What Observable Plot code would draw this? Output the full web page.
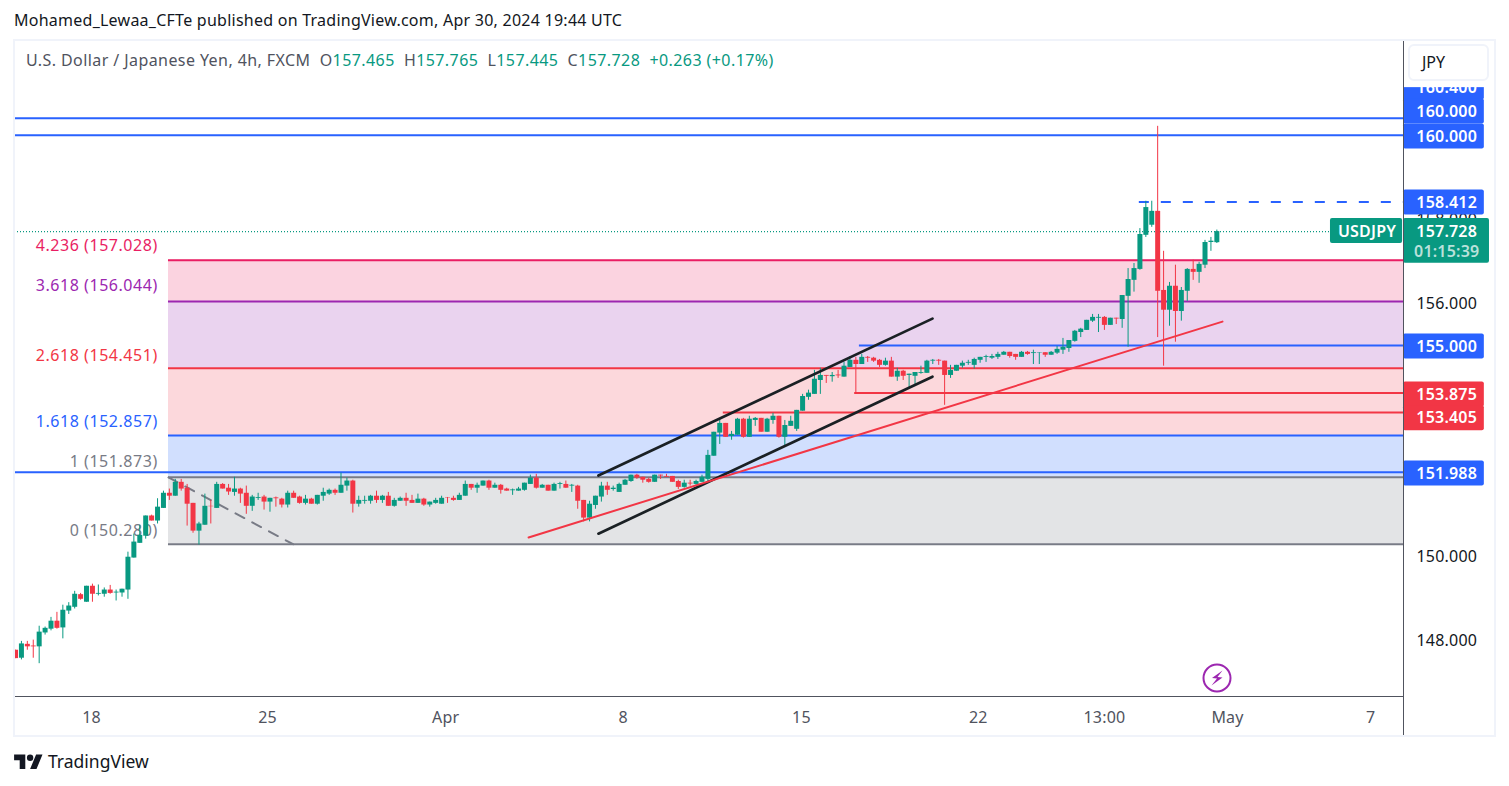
<!DOCTYPE html>
<html>
<head>
<meta charset="utf-8">
<script src="https://cdn.jsdelivr.net/npm/d3@7"></script>
<script src="https://cdn.jsdelivr.net/npm/@observablehq/plot@0.6"></script>
<style>
html,body{margin:0;padding:0;background:#fff;width:1509px;height:786px;overflow:hidden;font-family:"Noto Sans",sans-serif;color:#131722}
.abs{position:absolute;white-space:nowrap}
#plot{position:absolute;left:0;top:40px}
#plot svg{display:block}
#plot svg text{letter-spacing:.2px}
</style>
</head>
<body>
<div class="abs" id="pub" style="left:14px;top:10px;font-size:16px;line-height:21px;letter-spacing:.25px">Mohamed_Lewaa_CFTe published on TradingView.com, Apr 30, 2024 19:44 UTC</div>
<div id="plot"></div>
<div class="abs" style="left:13px;top:39px;width:1479px;height:694px;border:2px solid #f0f3fa;pointer-events:none"></div>
<div class="abs" id="legend" style="left:26px;top:50px;font-size:16px;line-height:21px;color:#50535e;letter-spacing:.42px">U.S. Dollar / Japanese Yen, 4h, FXCM&nbsp;&nbsp;O<span style="color:#089981">157.465</span>&nbsp;&nbsp;H<span style="color:#089981">157.765</span>&nbsp;&nbsp;L<span style="color:#089981">157.445</span>&nbsp;&nbsp;C<span style="color:#089981">157.728</span>&nbsp;&nbsp;<span style="color:#089981">+0.263 (+0.17%)</span></div>
<div class="abs" style="left:1408px;top:44px;width:77px;height:33px;border:2px solid #f0f3fa;border-radius:6px;background:#fff;font-size:16px;line-height:33px;color:#131722"><span style="margin-left:12px">JPY</span></div>
<svg class="abs" style="left:1202px;top:663px" width="30" height="30" viewBox="0 0 30 30"><circle cx="15" cy="15" r="13.5" fill="none" stroke="#9c27b0" stroke-width="2"/><path d="M20.5 7.5 L10 15 L15 15.5 L9.5 22.5 L20.5 14.5 L15.5 14 Z" fill="#9c27b0"/></svg>
<svg class="abs" style="left:14px;top:753px" width="29" height="16" viewBox="0 0 36 20"><path d="M14 20H7V9H0V2h14v18zM28 20h-8l7.5-18h8L28 20z" fill="#131722"/><circle cx="20" cy="6" r="4" fill="#131722"/></svg>
<div class="abs" style="left:48px;top:748px;font-size:17.5px;line-height:26px;color:#131722">TradingView</div>
<script>
const opens = [147.78,147.59,147.92,147.88,147.86,148.19,148.28,148.47,148.31,148.71,148.80,149.10,148.92,149.30,149.11,149.11,149.21,149.14,149.14,149.21,149.97,150.32,150.49,150.97,150.85,151.15,151.51,151.44,151.77,151.63,151.27,150.61,150.75,151.20,151.15,151.72,151.63,151.53,151.61,151.51,151.20,151.39,151.42,151.30,151.40,151.37,151.23,151.51,151.42,151.27,151.37,151.25,151.44,151.49,151.58,151.51,151.68,151.80,151.25,151.32,151.32,151.44,151.34,151.44,151.20,151.32,151.39,151.34,151.27,151.37,151.23,151.27,151.25,151.40,151.39,151.34,151.44,151.72,151.63,151.68,151.80,151.63,151.70,151.61,151.57,151.56,151.58,151.72,151.87,151.63,151.70,151.56,151.72,151.72,151.68,151.68,151.34,150.92,151.22,151.42,151.68,151.60,151.53,151.70,151.79,151.94,151.89,151.84,151.77,151.94,151.91,151.91,151.79,151.65,151.75,151.72,151.77,151.84,152.39,152.94,153.17,152.86,152.89,153.27,152.84,153.24,153.29,152.96,153.24,153.34,152.84,153.10,153.03,153.46,153.79,153.86,154.19,154.31,154.28,154.32,154.27,154.50,154.67,154.57,154.74,154.72,154.67,154.55,154.65,154.27,154.41,154.31,154.29,154.36,154.36,154.65,154.67,154.65,154.31,154.41,154.53,154.60,154.55,154.67,154.74,154.72,154.74,154.79,154.86,154.81,154.74,154.86,154.83,154.84,154.85,154.79,154.84,154.91,154.95,155.12,155.33,155.38,155.60,155.67,155.69,155.50,155.67,155.64,156.19,156.57,156.83,157.64,157.88,158.21,156.33,155.86,156.43,155.83,156.31,156.83,156.76,156.93,157.47,157.465];
const highs = [147.78,147.99,147.99,148.02,148.35,148.33,148.56,148.68,148.85,148.91,149.18,149.13,149.30,149.35,149.33,149.26,149.32,149.21,149.23,150.11,150.54,150.75,150.97,150.99,151.38,151.56,151.61,151.84,151.84,151.72,151.27,150.82,151.49,151.34,151.77,151.74,151.72,151.89,151.63,151.68,151.46,151.51,151.46,151.39,151.42,151.39,151.56,151.56,151.44,151.46,151.39,151.46,151.63,151.61,151.61,151.99,151.87,151.82,151.44,151.44,151.46,151.56,151.46,151.53,151.39,151.42,151.51,151.46,151.49,151.39,151.30,151.39,151.44,151.41,151.44,151.51,151.80,151.72,151.75,151.80,151.82,151.75,151.72,151.63,151.61,151.65,151.75,151.94,151.96,151.72,151.70,151.75,151.77,151.80,151.72,151.70,151.34,151.32,151.44,151.77,151.77,151.68,151.75,151.84,151.94,151.96,151.89,151.87,151.94,151.94,151.96,151.91,151.82,151.82,151.82,151.82,151.94,152.53,152.96,153.27,153.17,152.98,153.29,153.29,153.34,153.31,153.29,153.29,153.41,153.34,153.24,153.34,153.48,153.86,153.96,154.43,154.48,154.31,154.38,154.43,154.62,154.76,154.74,154.81,154.76,154.74,154.69,154.72,154.74,154.48,154.43,154.34,154.38,154.53,154.67,154.69,154.69,154.65,154.55,154.55,154.65,154.67,154.72,154.74,154.79,154.81,154.86,154.88,154.86,154.81,154.88,154.88,154.91,154.85,154.85,154.88,155.00,155.19,155.14,155.38,155.43,155.62,155.76,155.76,155.71,155.67,155.67,156.21,156.85,156.97,157.80,158.45,158.45,160.23,157.26,156.52,156.93,156.40,156.85,157.05,157.00,157.52,157.59,157.765];
const lows = [147.58,147.55,147.78,147.59,147.46,148.14,148.24,148.28,148.05,148.63,148.76,148.97,148.92,148.92,149.07,149.04,149.11,148.95,149.04,148.99,149.97,150.32,150.42,150.85,150.78,151.15,151.34,151.44,151.56,150.73,150.56,150.28,150.75,150.78,151.15,151.61,151.46,151.44,151.27,151.01,151.08,151.34,151.11,151.06,151.18,151.16,151.16,151.39,151.25,151.23,151.25,151.23,151.32,151.46,151.46,151.51,151.56,151.04,151.18,151.25,151.25,151.27,151.27,151.20,151.18,151.32,151.20,151.27,151.27,151.20,151.18,151.25,151.25,151.27,151.32,151.34,151.44,151.58,151.51,151.68,151.58,151.63,151.49,151.56,151.46,151.56,151.56,151.72,151.61,151.63,151.56,151.56,151.61,151.63,151.53,151.13,150.83,150.83,151.13,151.30,151.46,151.56,151.53,151.70,151.77,151.84,151.75,151.75,151.77,151.84,151.89,151.77,151.60,151.63,151.68,151.70,151.77,151.79,152.39,152.67,152.84,152.77,152.89,152.82,152.84,153.10,152.96,152.96,153.15,152.82,152.60,153.10,152.98,153.46,153.72,153.86,153.86,154.12,154.15,154.24,154.27,154.50,153.88,154.57,154.62,154.62,154.50,154.53,154.27,154.17,154.19,153.98,154.08,154.34,154.36,154.57,154.55,153.60,154.24,154.41,154.48,154.55,154.46,154.60,154.62,154.69,154.69,154.79,154.72,154.67,154.74,154.79,154.57,154.57,154.74,154.79,154.81,154.81,154.86,155.10,155.21,155.38,155.57,155.33,155.38,155.50,155.52,155.43,154.98,156.29,156.81,157.59,157.83,155.21,154.53,155.48,155.10,155.60,156.07,156.57,156.50,156.85,157.26,157.445];
const closes = [147.58,147.93,147.86,147.86,148.21,148.30,148.47,148.30,148.73,148.83,149.11,148.99,149.30,149.11,149.13,149.21,149.13,149.16,149.23,149.99,150.35,150.51,150.97,150.85,151.18,151.51,151.44,151.77,151.61,151.25,150.61,150.78,151.20,151.19,151.72,151.61,151.54,151.61,151.49,151.20,151.42,151.41,151.30,151.39,151.38,151.23,151.51,151.39,151.27,151.37,151.25,151.46,151.53,151.58,151.51,151.70,151.80,151.25,151.34,151.34,151.44,151.34,151.44,151.20,151.34,151.39,151.32,151.27,151.37,151.23,151.30,151.34,151.39,151.39,151.34,151.46,151.72,151.63,151.70,151.80,151.63,151.70,151.58,151.56,151.59,151.61,151.75,151.87,151.63,151.70,151.56,151.72,151.74,151.63,151.70,151.32,150.92,151.25,151.44,151.68,151.58,151.63,151.72,151.82,151.94,151.87,151.82,151.77,151.94,151.92,151.89,151.77,151.65,151.75,151.73,151.79,151.89,152.41,152.96,153.17,152.84,152.91,153.27,152.84,153.27,153.29,152.96,153.27,153.34,152.84,153.12,153.22,153.48,153.81,153.89,154.22,154.31,154.29,154.31,154.30,154.53,154.67,154.57,154.74,154.72,154.65,154.55,154.65,154.27,154.41,154.29,154.34,154.38,154.38,154.65,154.67,154.65,154.31,154.43,154.55,154.60,154.62,154.69,154.74,154.76,154.76,154.81,154.86,154.76,154.74,154.86,154.81,154.85,154.85,154.79,154.86,154.93,154.98,155.14,155.36,155.41,155.62,155.69,155.69,155.50,155.67,155.65,156.21,156.59,156.85,157.66,158.30,158.21,156.31,155.86,156.43,155.83,156.33,156.83,156.76,156.95,157.47,157.50,157.728];

const timeTickPos = [12.84,42.6,72.7,102.7,132.8,162.7,184,204.8,229];
const timeTickLabels = ["18","25","Apr","8","15","22","13:00","May","7"];
const priceTicks = [148,150,156,158];

const fibLevels = [150.30,151.89,152.88,154.48,156.07,157.05];
const fibLabels = ["0 (150.280)","1 (151.873)","1.618 (152.857)","2.618 (154.451)","3.618 (156.044)","4.236 (157.028)"];
const fibLabelPrice = [150.62,152.25,153.2,154.78,156.43,157.39];
const fibLine = ["#787b86","#787b86","#2962ff","#f23645","#9c27b0","#e91e63"];
const fibFill = ["#e3e4e6","#d1dffe","#fcd8dc","#ead3ef","#fbd3e0"];
const fibText = ["#787b86","#787b86","#2962ff","#f23645","#9c27b0","#e91e63"];
const fibStart = 25.85;

const xMin = -0.17, xAxis = 234.54, yMax = 162.27, yMin = 146.68, yBottom = 145.74;
const badgeEnd = 248.2, lastEnd = 249.07, tagStart = 222.2;
const fullLevels = [160.42,160.02,152.01];
const segLevels = [{p:155.02,x:142.6,c:"#2962ff"},{p:153.89,x:141.8,c:"#f23645"},{p:153.43,x:119.6,c:"#f23645"}];
const dashedHigh = {p:158.43,x:189.9};
const lastPrice = 157.728;

const badges = [
  {t:"160.400",p:161.15,c:"#2962ff"},{t:"160.000",p:160.58,c:"#2962ff"},{t:"160.000",p:159.99,c:"#2962ff"},
  {t:"158.412",p:158.42,c:"#2962ff"},{t:"155.000",p:155,c:"#2962ff"},
  {t:"153.875",p:153.86,c:"#f23645"},{t:"153.405",p:153.29,c:"#f23645"},{t:"151.988",p:151.98,c:"#2962ff"}
];
const badgeH = 0.297;

const channelTop = [{x:98.5,y:151.93},{x:154.95,y:155.66}];
const channelBot = [{x:98.5,y:150.55},{x:154.95,y:154.28}];
const trendRed = [{x:86.7,y:150.46},{x:203.95,y:155.59}];
const trendGrey = [{x:25.85,y:151.885},{x:46.9,y:150.3}];

const candles = opens.map((o,i)=>({i,o,h:highs[i],l:lows[i],c:closes[i]}));
const up = "#089981", down = "#f23645";
const col = d => d.c >= d.o ? up : down;
const bands = fibFill.map((f,i)=>({y1:fibLevels[i],y2:fibLevels[i+1],f}));
const fibs = fibLevels.map((p,i)=>({p,t:fibLabels[i],lp:fibLabelPrice[i],c:fibLine[i],tc:fibText[i]}));
const FONT = '"Noto Sans",sans-serif';

const chart = Plot.plot({
  width:1509,height:696,marginLeft:14,marginRight:106,marginTop:0,marginBottom:40,
  style:{background:"transparent",fontFamily:FONT},
  x:{type:"linear",domain:[xMin,xAxis],axis:null},
  y:{type:"linear",domain:[yMin,yMax],axis:null},
  marks:[
    Plot.rect(bands,{x1:fibStart,x2:xAxis,y1:"y1",y2:"y2",fill:"f"}),
    Plot.ruleY(fibs,{y:"p",x1:fibStart,x2:xAxis,stroke:"c",strokeWidth:2}),
    Plot.text(fibs,{x:fibStart-1.8,y:"lp",text:"t",fill:"tc",textAnchor:"end",fontSize:16}),
    Plot.ruleY(fullLevels,{x1:xMin,x2:xAxis,stroke:"#2962ff",strokeWidth:2}),
    Plot.ruleY(segLevels,{y:"p",x1:"x",x2:xAxis,stroke:"c",strokeWidth:2}),
    Plot.ruleY([dashedHigh],{y:"p",x1:"x",x2:xAxis,stroke:"#2962ff",strokeWidth:2,strokeDasharray:"10 12"}),
    Plot.ruleY([lastPrice],{x1:xMin,x2:xAxis,stroke:up,strokeWidth:1.3,strokeDasharray:"1 2"}),
    Plot.line(trendGrey,{x:"x",y:"y",stroke:"#787b86",strokeWidth:2,strokeDasharray:"10 9"}),
    Plot.ruleX(candles,{x:"i",y1:"l",y2:"h",stroke:col,strokeWidth:1}),
    Plot.ruleX(candles,{x:"i",y1:"o",y2:"c",stroke:col,strokeWidth:5}),
    Plot.line(channelTop,{x:"x",y:"y",stroke:"#1a2024",strokeWidth:2.7}),
    Plot.line(channelBot,{x:"x",y:"y",stroke:"#1a2024",strokeWidth:2.7}),
    Plot.line(trendRed,{x:"x",y:"y",stroke:down,strokeWidth:2}),
    Plot.axisY(priceTicks,{anchor:"right",tickSize:0,tickPadding:13,tickFormat:d3.format(".3f"),fontSize:16,fill:"#131722",label:null}),
    Plot.axisX(timeTickPos,{anchor:"bottom",tickSize:0,tickPadding:15,tickFormat:(d,i)=>timeTickLabels[i],fontSize:16,fill:"#50535e",label:null}),
    Plot.rect(badges,{x1:xAxis,x2:badgeEnd,y1:d=>d.p-badgeH,y2:d=>d.p+badgeH,fill:"c",rx:2}),
    Plot.text(badges,{x:xAxis+7.3,y:"p",text:"t",fill:"#fff",fontSize:16,fontWeight:600}),
    Plot.rect([{}],{x1:xAxis,x2:lastEnd,y1:161.15,y2:yMax,fill:"#fff"}),
    Plot.rect([{}],{x1:xAxis,x2:lastEnd,y1:lastPrice-0.75,y2:lastPrice+0.31,fill:up,rx:2}),
    Plot.text(["157.728"],{x:xAxis+7.3,y:[lastPrice],text:d=>d,fill:"#fff",fontSize:16,fontWeight:600}),
    Plot.text(["01:15:39"],{x:xAxis+7.3,y:[lastPrice-0.47],text:d=>d,fill:"#fff",fillOpacity:.72,fontSize:16,fontWeight:600}),
    Plot.rect([{}],{x1:tagStart,x2:xAxis-0.15,y1:lastPrice-0.28,y2:lastPrice+0.31,fill:up,rx:2}),
    Plot.text(["USDJPY"],{x:(tagStart+xAxis)/2,y:[lastPrice],text:d=>d,fill:"#fff",fontSize:16,fontWeight:600}),
    Plot.ruleX([xAxis],{y1:yBottom,y2:yMax,stroke:"#50535e",strokeWidth:1}),
    Plot.ruleY([yMin],{x1:xMin,x2:xAxis,stroke:"#50535e",strokeWidth:1})
  ]
});
document.getElementById("plot").appendChild(chart);
d3.select(chart).selectAll("text").filter(function(){return fibLabels.includes(this.textContent)}).style("letter-spacing",".55px");
</script>
</body>
</html>
